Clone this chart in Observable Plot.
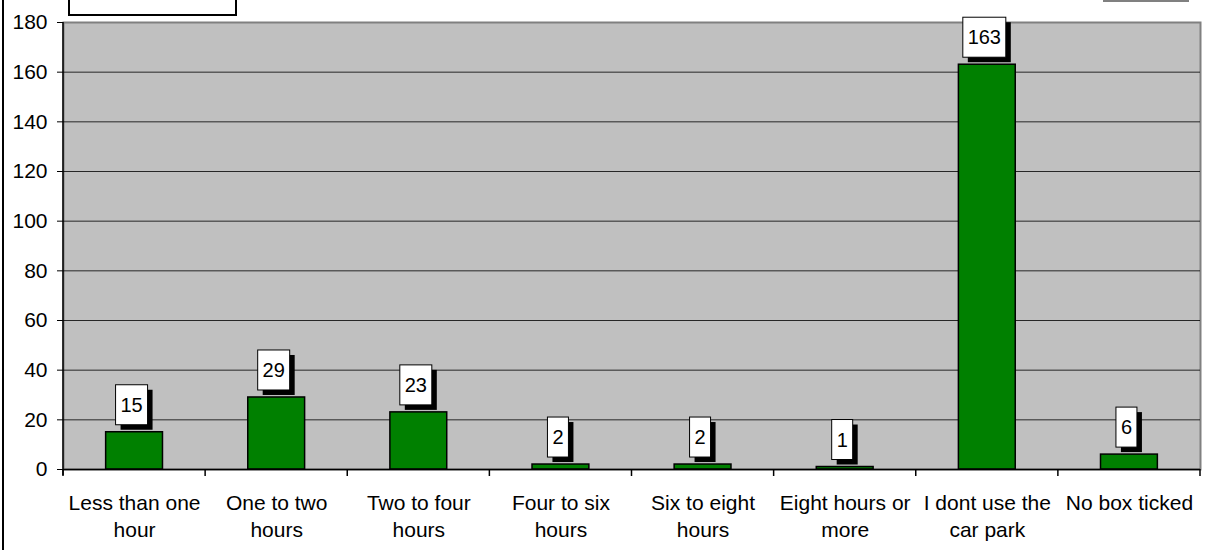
<!DOCTYPE html>
<html>
<head>
<meta charset="utf-8">
<script src="https://cdn.jsdelivr.net/npm/d3@7"></script>
<script src="https://cdn.jsdelivr.net/npm/@observablehq/plot@0.6"></script>
<style>
  body { margin: 0; background: #fff; }
  #chart { position: relative; width: 1208px; height: 550px; overflow: hidden; }
  #chart svg { display: block; }
  .edge-left { position: absolute; left: 2px; top: 0; width: 2px; height: 550px; background: #000; }
  .key-box { position: absolute; left: 68px; top: -20px; width: 165px; height: 32px; border: 2px solid #000; background: #fff; }
  .corner-rule { position: absolute; left: 1103px; top: 0; width: 86px; height: 2px; background: #808080; }
</style>
</head>
<body>
<div id="chart">
  <div class="key-box"></div>
  <div class="corner-rule"></div>
</div>
<script>
// How long people park: number of responses per answer
const categories = [
  "Less than one hour",
  "One to two hours",
  "Two to four hours",
  "Four to six hours",
  "Six to eight hours",
  "Eight hours or more",
  "I dont use the car park",
  "No box ticked"
];
const tickLabels = [
  "Less than one\nhour",
  "One to two\nhours",
  "Two to four\nhours",
  "Four to six\nhours",
  "Six to eight\nhours",
  "Eight hours or\nmore",
  "I dont use the\ncar park",
  "No box ticked"
];
const counts = [15, 29, 23, 2, 2, 1, 163, 6];
const yTicks = [0, 20, 40, 60, 80, 100, 120, 140, 160, 180];
const gridValues = [20, 40, 60, 80, 100, 120, 140, 160];

const data = categories.map((category, i) => ({category, count: counts[i], tick: tickLabels[i]}));
const fontFamily = "'Liberation Sans', Arial, Helvetica, sans-serif";

// measure label text so each value box hugs its number
const measureCtx = document.createElement("canvas").getContext("2d");
measureCtx.font = `20px ${fontFamily}`;

// value labels: white box with a hard black drop shadow, sitting above each bar
const valueBoxes = Plot.text(data, {
  x: "category",
  y: "count",
  text: d => String(d.count),
  render(index, scales, values, dimensions) {
    const g = d3.create("svg:g");
    const half = scales.x.bandwidth() / 2;
    for (const i of index) {
      const d = data[i];
      const label = String(d.count);
      const w = Math.round(measureCtx.measureText(label).width) + 10;
      const h = 40;
      const cx = scales.x(d.category) + half - 2.5;
      const bottom = scales.y(d.count) - 7;
      const x0 = cx - w / 2, y0 = bottom - h;
      g.append("rect").attr("x", x0 + 5).attr("y", y0 + 5).attr("width", w).attr("height", h).attr("fill", "#000");
      g.append("rect").attr("x", x0).attr("y", y0).attr("width", w).attr("height", h)
        .attr("fill", "#fff").attr("stroke", "#000").attr("stroke-width", 1);
      g.append("text").attr("x", cx).attr("y", y0 + h / 2).attr("dy", "0.36em")
        .attr("text-anchor", "middle").attr("font-size", 20).attr("fill", "#000")
        .attr("font-family", fontFamily).text(label);
    }
    return g.node();
  }
});

// category boundary ticks below the baseline, plus the left value axis line
const categoryEdges = Plot.ruleX(categories, {
  x: d => d,
  render(index, scales, values, dimensions) {
    const g = d3.create("svg:g").attr("stroke", "#000").attr("stroke-width", 1.5);
    const x = scales.x;
    const gap = (x.step() - x.bandwidth()) / 2;
    const baseY = dimensions.height - dimensions.marginBottom;
    const edges = categories.map(c => x(c) - gap);
    edges.push(x(categories[categories.length - 1]) + x.bandwidth() + gap);
    for (const ex of edges) {
      g.append("line").attr("x1", ex).attr("x2", ex).attr("y1", baseY).attr("y2", baseY + 7);
    }
    g.append("line")
      .attr("x1", dimensions.marginLeft).attr("x2", dimensions.marginLeft)
      .attr("y1", dimensions.marginTop).attr("y2", baseY + 6);
    return g.node();
  }
});

const chart = Plot.plot({
  width: 1208,
  height: 550,
  marginLeft: 63,
  marginRight: 8,
  marginTop: 22,
  marginBottom: 81,
  style: {fontFamily, background: "transparent", color: "#000", overflow: "visible"},
  x: {domain: categories, paddingInner: 0.6, paddingOuter: 0.3, round: false, label: null},
  y: {domain: [0, 180], label: null},
  marks: [
    Plot.frame({fill: "#C0C0C0", stroke: "#808080", strokeWidth: 2}),
    Plot.gridY(gridValues, {stroke: "#000", strokeOpacity: 0.8, strokeWidth: 1}),
    Plot.barY(data, {x: "category", y: "count", fill: "#008000", stroke: "#000", strokeWidth: 1.5}),
    Plot.ruleY([0], {stroke: "#000", strokeWidth: 1.5}),
    categoryEdges,
    Plot.axisY({ticks: yTicks, tickSize: 6, tickPadding: 10, fontSize: 21, stroke: "#000", label: null}),
    Plot.axisX({
      tickSize: 0,
      tickPadding: 22,
      fontSize: 21,
      lineHeight: 1.27,
      label: null,
      tickFormat: d => tickLabels[categories.indexOf(d)]
    }),
    valueBoxes
  ]
});

const host = document.getElementById("chart");
host.insertBefore(chart, host.firstChild);
const edge = document.createElement("div");
edge.className = "edge-left";
host.appendChild(edge);
</script>
</body>
</html>
